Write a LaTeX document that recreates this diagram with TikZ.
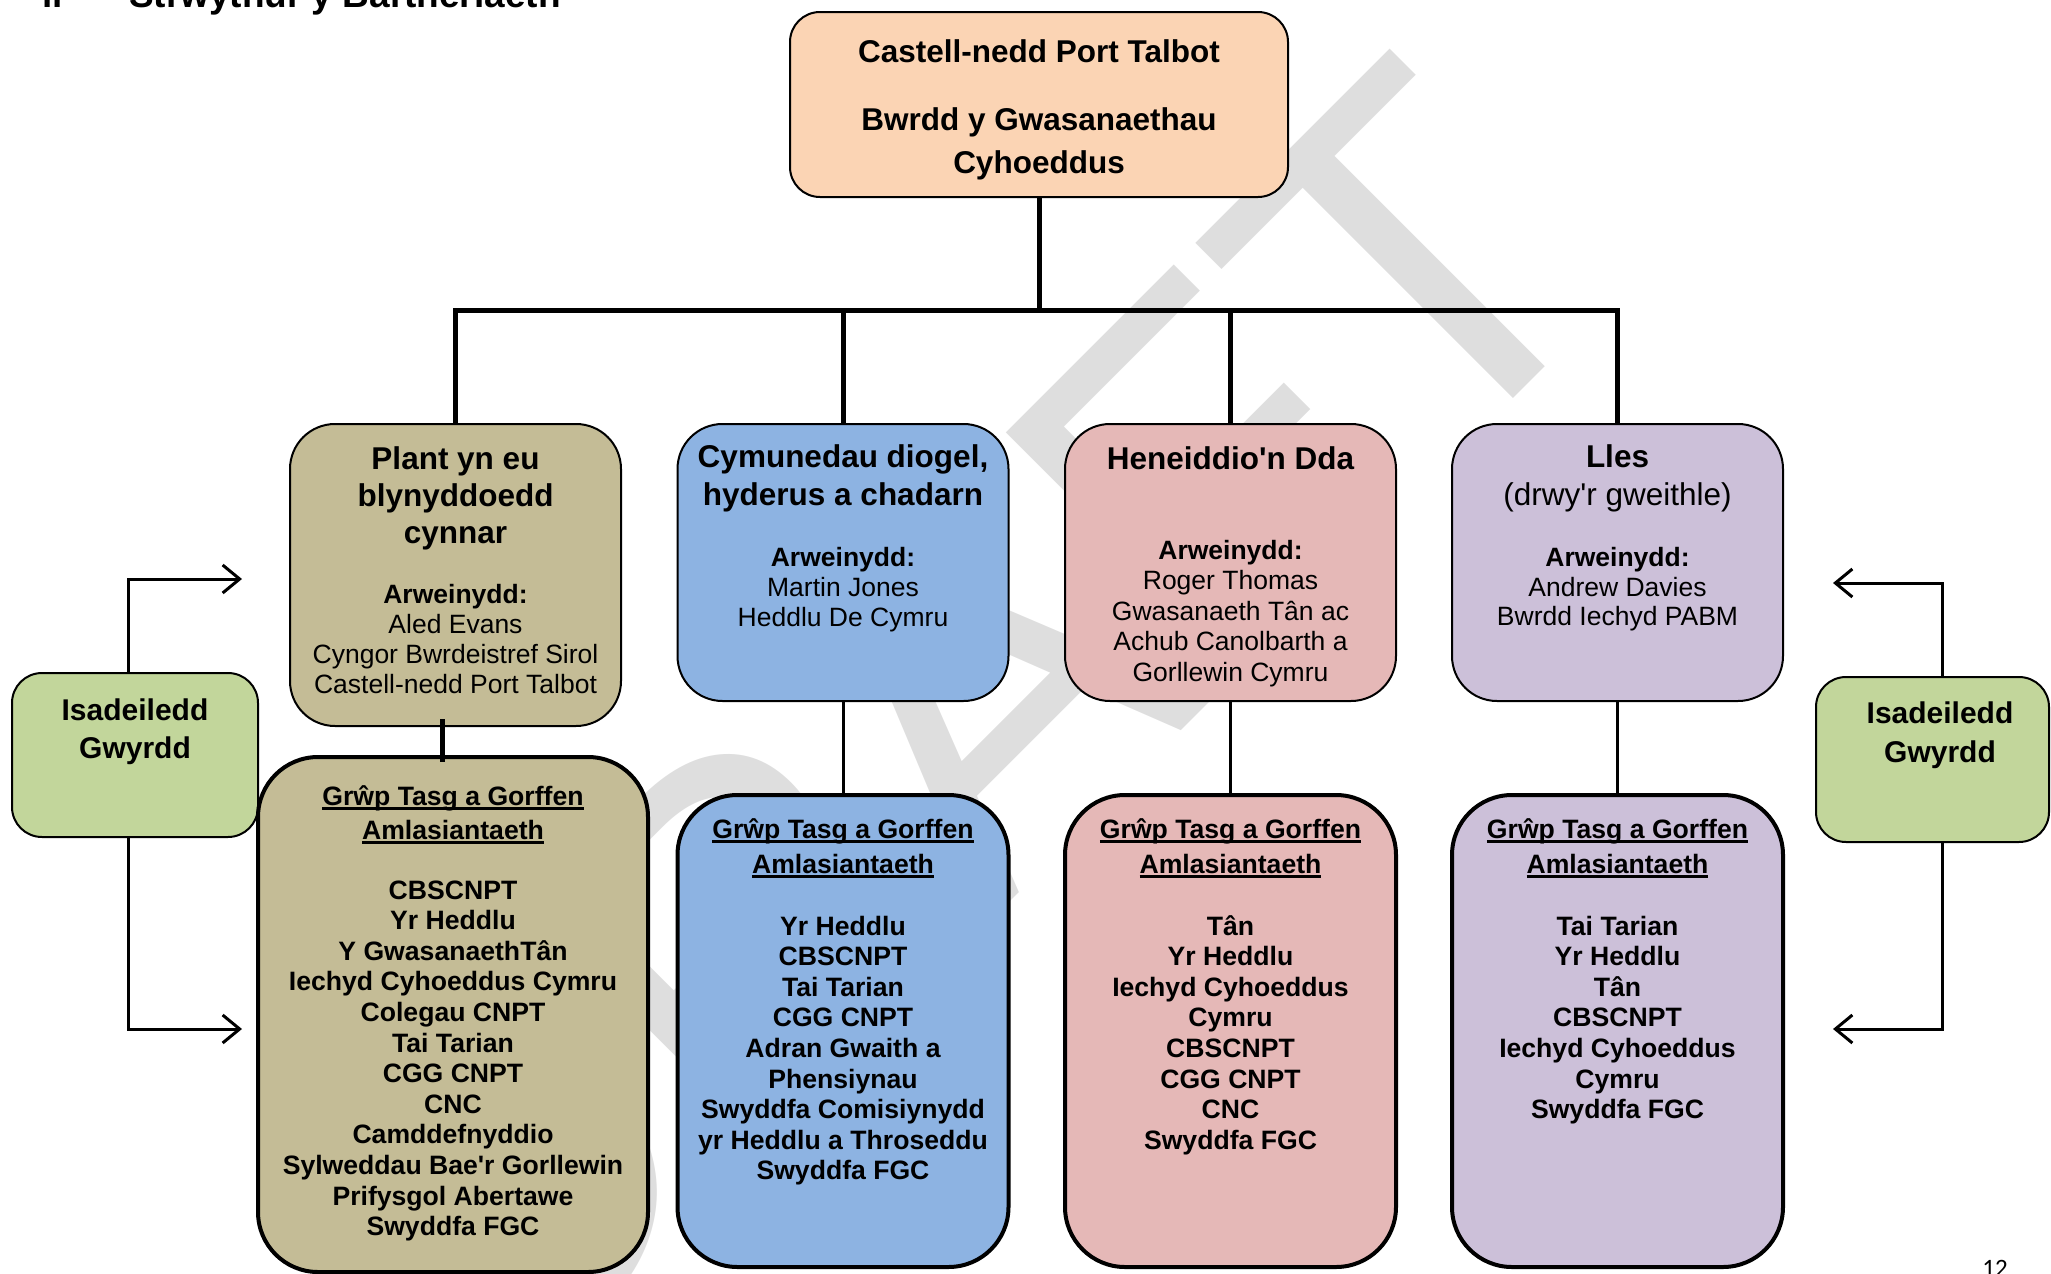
\documentclass[tikz,border=0pt]{standalone}
\usepackage{fontspec}
\setmainfont{Liberation Sans}[Ligatures=TeXOff]
\newfontfamily\pagefont{Carlito}
\usetikzlibrary{arrows.meta}
\definecolor{cpeach}{HTML}{FBD4B4}
\definecolor{ctan}{HTML}{C4BC96}
\definecolor{cblue}{HTML}{8DB3E2}
\definecolor{cpink}{HTML}{E5B8B7}
\definecolor{clav}{HTML}{CCC0D9}
\definecolor{cgreen}{HTML}{C2D69B}
\definecolor{cwm}{HTML}{DEDEDE}
\newcommand\ulx[1]{\setbox0=\hbox{#1}\rlap{\rule[-4.6pt]{\wd0}{2.3pt}}\box0}
\newcommand\txtstack[6]{\foreach \t [count=\k] in {#6}{\node[#5] (#1-\k) at (#2,{#3+(\k-1)*#4}) {\t};}}
\begin{document}
\begin{tikzpicture}[x=1pt,y=-1pt,
  every node/.style={inner sep=0pt, outer sep=0pt},
  boxbase/.style={draw=black, line width=2pt},
  topbox/.style={boxbase, rounded corners=30pt, fill=cpeach, minimum width=498pt, minimum height=185pt},
  lvbox/.style={boxbase, rounded corners=45pt, minimum width=331pt, minimum height=277pt},
  grpbox/.style={draw=black, line width=4pt, rounded corners=60pt, minimum width=331pt, minimum height=472pt},
  greenbox/.style={boxbase, rounded corners=30pt, fill=cgreen},
  conn/.style={line width=5pt},
  connthin/.style={line width=3pt},
  arrw/.style={line width=3pt, -{Straight Barb[length=17pt,width=28pt]}},
  ttl/.style={anchor=base, font=\bfseries\fontsize{31.5}{37}\selectfont},
  rgl/.style={anchor=base, font=\fontsize{31.5}{37}\selectfont},
  bdy/.style={anchor=base, font=\fontsize{26.5}{30}\selectfont},
  bdb/.style={anchor=base, font=\bfseries\fontsize{26.5}{30}\selectfont},
  itm/.style={anchor=base, font=\bfseries\fontsize{26.6}{30.6}\selectfont},
  grn/.style={anchor=base, font=\bfseries\fontsize{30}{36}\selectfont},
  hd/.style={anchor=base west, font=\bfseries\fontsize{37}{40}\selectfont}
]
\useasboundingbox (0,0) rectangle (2051,1274);
\clip (0,0) rectangle (2051,1274);

% watermark
\node[font=\fontsize{486}{486}\selectfont, text=cwm, rotate=45, anchor=center] (wm) at (944,732) {DRAFT};

% heading and page number
\node[hd] (secno) at (42,7) {ii};
\node[hd] (sectitle) at (129,7) {Strwythur y Bartneriaeth};
\node[anchor=base, font=\pagefont\fontsize{25}{25}\selectfont] (pageno) at (1995,1276) {12};

% boxes
\node[topbox] (top) at (1039,104.5) {};
\node[lvbox, fill=ctan, minimum height=302pt] (p1) at (455.5,575) {};
\node[lvbox, fill=cblue] (p2) at (843,562.5) {};
\node[lvbox, fill=cpink] (p3) at (1230.5,562.5) {};
\node[lvbox, fill=clav] (p4) at (1617.5,562.5) {};

\node[greenbox, minimum width=246pt, minimum height=164pt] (gl) at (135,755) {};
\node[greenbox, minimum width=233pt, minimum height=165pt] (gr) at (1932.5,759.5) {};

\node[grpbox, fill=ctan, minimum width=390pt, minimum height=515pt] (g1) at (453,1014.5) {};
\node[grpbox, fill=cblue] (g2) at (843,1031) {};
\node[grpbox, fill=cpink] (g3) at (1230.5,1031) {};
\node[grpbox, fill=clav] (g4) at (1617.5,1031) {};

% connectors
\coordinate (hub) at (1039,310);
\draw[conn] (top.south) -- (hub);
\draw[conn] (p1.north) |- (hub);
\draw[conn] (p2.north) |- (hub);
\draw[conn] (p3.north) |- (hub);
\draw[conn] (p4.north) |- (hub);
\draw[conn] ([xshift=-13.5pt,yshift=7pt]p1.south) -- ([xshift=-11pt,yshift=-5pt]g1.north);
\draw[connthin] (p2.south) -- (g2.north);
\draw[connthin] (p3.south) -- (g3.north);
\draw[connthin] (p4.south) -- (g4.north);

% green arrows
\coordinate (aL1) at (242,579);
\coordinate (aL2) at (242,1029);
\coordinate (aR1) at (1833,583);
\coordinate (aR2) at (1833,1029);
\draw[arrw] ([xshift=-7pt]gl.north) |- (aL1);
\draw[arrw] ([xshift=-7pt]gl.south) |- (aL2);
\draw[arrw] ([xshift=9.5pt]gr.north) |- (aR1);
\draw[arrw] ([xshift=9.5pt]gr.south) |- (aR2);

% top box text
\node[ttl] (t1) at (1039,62) {Castell-nedd Port Talbot};
\node[ttl] (t2) at (1039,130) {Bwrdd y Gwasanaethau};
\node[ttl] (t3) at (1039,173) {Cyhoeddus};

% level 2 texts
\txtstack{p1t}{455.5}{469}{37}{ttl}{Plant yn eu,blynyddoedd,cynnar}
\node[bdb] (p1a) at (455.5,603) {Arweinydd:};
\txtstack{p1b}{455.5}{633}{30}{bdy}{Aled Evans,Cyngor Bwrdeistref Sirol,Castell-nedd Port Talbot}

\txtstack{p2t}{843}{467}{38}{ttl}{{Cymunedau diogel,},hyderus a chadarn}
\node[bdb] (p2a) at (843,566) {Arweinydd:};
\txtstack{p2b}{843}{596}{30}{bdy}{Martin Jones,Heddlu De Cymru}

\node[ttl] (p3t) at (1230.5,469) {Heneiddio'n Dda};
\node[bdb] (p3a) at (1230.5,559) {Arweinydd:};
\txtstack{p3b}{1230.5}{589.5}{30.5}{bdy}{Roger Thomas,Gwasanaeth Tân ac,Achub Canolbarth a,Gorllewin Cymru}

\node[ttl] (p4t) at (1617.5,467) {Lles};
\node[rgl] (p4s) at (1617.5,505) {(drwy'r gweithle)};
\node[bdb] (p4a) at (1617.5,566) {Arweinydd:};
\txtstack{p4b}{1617.5}{596}{29.5}{bdy}{Andrew Davies,Bwrdd Iechyd PABM}

% green texts
\node[grn] (gl1) at (135,720) {Isadeiledd};
\node[grn] (gl2) at (135,758) {Gwyrdd};
\node[grn] (gr1) at (1940,723) {Isadeiledd};
\node[grn] (gr2) at (1940,762) {Gwyrdd};

% level 3 texts
\node[itm] (g1h1) at (453,805) {\ulx{Grŵp Tasg a Gorffen}};
\node[itm] (g1h2) at (453,839) {\ulx{Amlasiantaeth}};
\txtstack{g1i}{453}{899}{30.6}{itm}{CBSCNPT,Yr Heddlu,Y GwasanaethTân,Iechyd Cyhoeddus Cymru,Colegau CNPT,Tai Tarian,CGG CNPT,CNC,Camddefnyddio,Sylweddau Bae'r Gorllewin,Prifysgol Abertawe,Swyddfa FGC}

\node[itm] (g2h1) at (843,838) {\ulx{Grŵp Tasg a Gorffen}};
\node[itm] (g2h2) at (843,873) {\ulx{Amlasiantaeth}};
\txtstack{g2i}{843}{935}{30.6}{itm}{Yr Heddlu,CBSCNPT,Tai Tarian,CGG CNPT,Adran Gwaith a,Phensiynau,Swyddfa Comisiynydd,yr Heddlu a Throseddu,Swyddfa FGC}

\node[itm] (g3h1) at (1230.5,838) {\ulx{Grŵp Tasg a Gorffen}};
\node[itm] (g3h2) at (1230.5,873) {\ulx{Amlasiantaeth}};
\txtstack{g3i}{1230.5}{935}{30.6}{itm}{Tân,Yr Heddlu,Iechyd Cyhoeddus,Cymru,CBSCNPT,CGG CNPT,CNC,Swyddfa FGC}

\node[itm] (g4h1) at (1617.5,838) {\ulx{Grŵp Tasg a Gorffen}};
\node[itm] (g4h2) at (1617.5,873) {\ulx{Amlasiantaeth}};
\txtstack{g4i}{1617.5}{935}{30.6}{itm}{Tai Tarian,Yr Heddlu,Tân,CBSCNPT,Iechyd Cyhoeddus,Cymru,Swyddfa FGC}
\end{tikzpicture}
\end{document}
